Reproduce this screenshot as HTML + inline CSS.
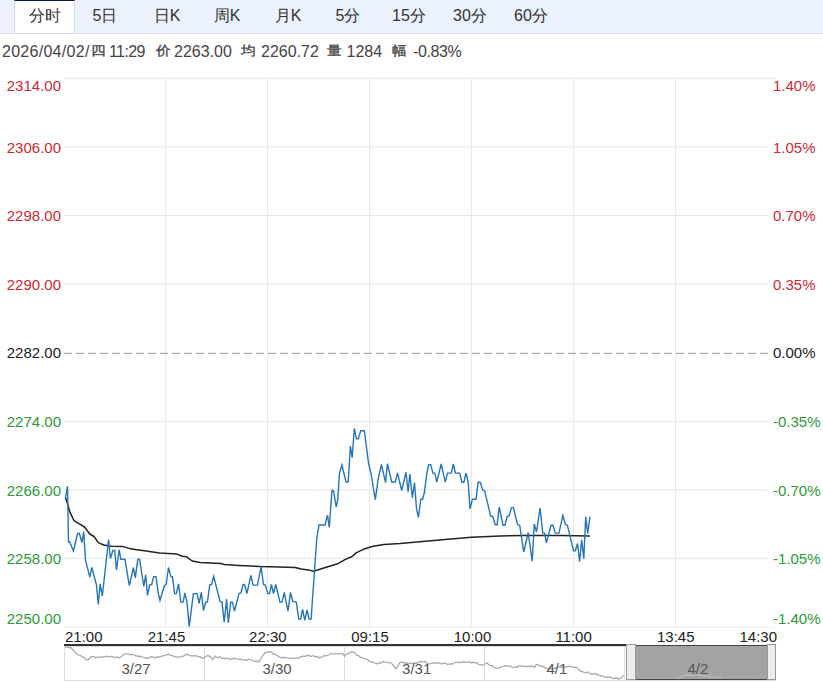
<!DOCTYPE html>
<html><head><meta charset="utf-8">
<style>
*{margin:0;padding:0;box-sizing:border-box}
html,body{width:823px;height:683px;overflow:hidden;background:#fff;font-family:"Liberation Sans",sans-serif;}
#tabs{position:absolute;left:0;top:0;width:823px;height:34px;background:#ebf2fd;border-bottom:1px solid #d9dee8}
.tab{position:absolute;top:0;height:33px;line-height:31px;font-size:16px;color:#333;text-align:center;width:60px}
.tab.on{background:#fff;border-top:1px solid #0b1a4a;border-left:1px solid #d4d8e0;border-right:1px solid #d4d8e0;height:33px;line-height:30px}
#info{position:absolute;left:2px;top:42px;font-size:16px;color:#444;white-space:pre;line-height:20px}
#info span{position:absolute;top:0}
#info .cj{transform:scale(0.95,0.84);transform-origin:0 3px;-webkit-text-stroke:0.35px #444}
.yl{position:absolute;left:0;width:61px;text-align:right;font-size:15px;line-height:16px;background:#fff;padding-left:4px}
.yr{position:absolute;left:768px;font-size:15px;line-height:16px;text-align:left;background:#fff;padding-left:5px;padding-right:2px}
.red{color:#cc2a32}.grn{color:#2b9b38}.blk{color:#222}
.xl{position:absolute;top:629px;font-size:15px;color:#222;line-height:15px;width:60px;text-align:center}
.nl{position:absolute;top:661px;font-size:15px;color:#555;line-height:15px;width:60px;text-align:center}
</style></head><body>
<div id="tabs">
<div class="tab on" style="left:14px;width:61px">分时</div>
<div class="tab" style="left:75px">5日</div>
<div class="tab" style="left:137px">日K</div>
<div class="tab" style="left:197px">周K</div>
<div class="tab" style="left:258px">月K</div>
<div class="tab" style="left:318px">5分</div>
<div class="tab" style="left:379px">15分</div>
<div class="tab" style="left:440px">30分</div>
<div class="tab" style="left:501px">60分</div>
</div>
<div id="info"><span style="left:0px;letter-spacing:0.28px">2026/04/02/</span><span class="cj" style="left:89px">四</span><span style="left:107px;letter-spacing:-0.6px">11:29</span><span class="cj" style="left:154px">价</span><span style="left:172px">2263.00</span><span class="cj" style="left:239px">均</span><span style="left:259px">2260.72</span><span class="cj" style="left:325px">量</span><span style="left:344.5px">1284</span><span class="cj" style="left:390px">幅</span><span style="left:411px;letter-spacing:-0.4px">-0.83%</span></div>
<svg width="823" height="683" style="position:absolute;left:0;top:0">
<g stroke="#e8e8e8" stroke-width="1">
<line x1="64" y1="78.35" x2="776" y2="78.35"/>
<line x1="64" y1="146.93" x2="776" y2="146.93"/>
<line x1="64" y1="215.51" x2="776" y2="215.51"/>
<line x1="64" y1="284.09" x2="776" y2="284.09"/>
<line x1="64" y1="421.25" x2="776" y2="421.25"/>
<line x1="64" y1="489.83" x2="776" y2="489.83"/>
<line x1="64" y1="558.41" x2="776" y2="558.41"/>
<line x1="64" y1="626.99" x2="776" y2="626.99"/>
<line x1="165.5" y1="78" x2="165.5" y2="627"/>
<line x1="267.5" y1="78" x2="267.5" y2="627"/>
<line x1="369.5" y1="78" x2="369.5" y2="627"/>
<line x1="471.5" y1="78" x2="471.5" y2="627"/>
<line x1="573.5" y1="78" x2="573.5" y2="627"/>
<line x1="675.5" y1="78" x2="675.5" y2="627"/>
</g>
<line x1="64" y1="353.3" x2="776" y2="353.3" stroke="#aaa" stroke-width="1.2" stroke-dasharray="8,4"/>
<path d="M65.6,498 L67.5,503.5 L69.7,511.6 L74,520.7 L78.2,523.1 L84.3,526.8 L89.8,534 L94,536.5 L98.3,542.6 L103.7,545 L111,546.2 L123.2,546.6 L129.3,548.4 L135.3,549.5 L142.6,550.5 L159.6,553.1 L177,554.1 L182.5,556.2 L186.7,556.8 L192.2,561 L200.1,562.6 L220.8,563.5 L224.4,564.4 L239,565.4 L260,566.5 L279.3,566.9 L295.1,567.5 L301.2,569.1 L308.5,569.9 L313.5,571.3 L325.5,567.5 L337.6,563.8 L344.9,559.6 L352.2,556.5 L356,552.9 L363.3,549.3 L373,546.2 L384,544.4 L400,543.4 L428,541 L451,538.9 L471.7,537.3 L500,536 L524.3,535.6 L560.8,535.6 L589.9,535.9" fill="none" stroke="#222" stroke-width="1.5" stroke-linejoin="round"/>
<path d="M65.3,498.5 L67.5,486.3 L68.5,542 L69.7,542 L73.4,551 L77.6,533.5 L79.4,533.5 L81.9,542.6 L83.7,531.6 L85.5,560.2 L89.8,577.2 L91.8,567.5 L96.5,585.1 L98.3,604.5 L100.1,583.9 L102.3,596 L108.6,539.5 L110.4,558.5 L112.9,550.5 L114.7,550.5 L116.5,569.9 L119.2,549.5 L120.8,559.3 L125,559.3 L129.3,585.7 L133.5,567.5 L135.3,577.8 L137.8,559.3 L139.6,559.3 L143.8,586.3 L145.7,574.8 L147.5,595.4 L149.7,585.1 L151.7,584.5 L153.6,576.6 L156,576.6 L158.2,593 L160,600.5 L164.3,585.7 L166.1,584.5 L168.5,567.5 L170.9,576.6 L172.4,576.6 L174.6,593.6 L176.4,593.6 L178.5,583.9 L180.9,602.1 L183.1,602.1 L184.9,593 L187,602.1 L189.2,626.4 L193.4,593.6 L197.1,593.6 L199.1,603.3 L201.3,592.4 L203.5,610.6 L205.6,602.1 L207.4,602.1 L209.8,585.1 L211.6,584.5 L213.7,576.6 L220.1,601.5 L222,602.1 L224.2,622.2 L226.6,599.1 L228.3,622.8 L230.7,602.1 L232.5,602.1 L234.4,611.2 L239,593.6 L240.8,593 L243.2,584.5 L244.8,585.1 L246.9,593.6 L250.9,575.4 L253,585.1 L257.4,585.1 L261.1,566.9 L263.5,584.5 L265.3,585.1 L267.8,593.6 L269.6,593.6 L271.4,584.5 L273.5,593.6 L275.7,584.5 L279.9,602.1 L282,602.1 L284.2,592.4 L288,611.2 L290.5,592.4 L292.7,601.5 L296.3,602.1 L298.7,619.1 L300.6,619.1 L302.6,609.4 L304.8,620.3 L307,610 L309.1,619.1 L311.1,619.1 L316.8,538 L319,525 L325,525 L327.5,515.2 L329.3,527.4 L332,490.3 L333.6,490.9 L336.2,507 L337.8,499.4 L339.4,473.5 L341.9,465 L346.1,482 L348.2,482 L350.4,446.1 L352.2,457.7 L354.3,428.5 L356.5,438.8 L358.3,438.8 L360.7,430.7 L364.3,430.7 L368.6,463.7 L371,473.5 L375.3,499.6 L378.3,478.3 L381.4,464.3 L385.6,482.6 L387.4,463.7 L391.7,482 L395.3,482 L397.5,472.9 L401.7,490.5 L406,472.2 L408.1,491.7 L409.9,474.1 L412.3,497.8 L414.5,482.6 L416.5,508.9 L418.4,517.4 L420.8,499.2 L422.6,499.2 L424.4,492.5 L426.9,473.1 L428.7,464.6 L430.8,464.6 L432.9,473.1 L434.8,473.1 L436.8,482.2 L441.2,464 L445.3,482.2 L447.5,473.1 L451.2,473.1 L453.4,464 L455.4,473.1 L459.7,473.1 L461.9,482.2 L463.9,482.2 L466,473.1 L468.2,482.2 L470,508.9 L472.4,499.2 L476.1,499.2 L478.1,482.2 L480.3,482.2 L482.8,490.1 L484.6,490.7 L490.7,516.2 L492.7,516.2 L495.2,524.7 L497.1,524.7 L499.2,507.1 L503,525.2 L504.9,525.2 L507.3,516.1 L509.1,516.1 L511.5,507.6 L513.4,507.6 L517.6,524.6 L519.7,525.2 L523.7,552 L528.2,532.5 L532.2,561.1 L534.3,524 L536.5,531.9 L540.1,508.2 L542.8,533.1 L544.7,533.1 L546.4,542.9 L551,525.2 L552.9,525.2 L555.3,533.1 L558.9,533.1 L562.9,515.5 L565.6,524.6 L567.4,525.2 L573.5,550.8 L575.3,550.8 L577.5,543.5 L579.6,561.7 L581.7,539.8 L583.8,558.7 L585.7,516.7 L587.7,533.7 L589.9,516.7" fill="none" stroke="#2675b8" stroke-width="1.4" stroke-linejoin="miter"/>
<!-- navigator -->
<rect x="64.5" y="646.5" width="711" height="34" fill="none" stroke="#ddd"/>
<g stroke="#ddd" shape-rendering="crispEdges">
<line x1="204.5" y1="646" x2="204.5" y2="680"/>
<line x1="344.5" y1="646" x2="344.5" y2="680"/>
<line x1="484.5" y1="646" x2="484.5" y2="680"/>
<line x1="624.5" y1="646" x2="624.5" y2="680"/>
</g>
<path d="M65.1,647.1 L67.1,646.9 L69.0,647.6 L71.0,647.7 L72.7,649.5 L74.5,651.8 L76.2,653.6 L78.2,654.9 L80.1,655.2 L82.1,657.0 L84.1,657.2 L86.0,659.5 L88.0,660.0 L90.6,657.0 L92.3,656.6 L94.0,656.6 L95.7,657.8 L97.4,657.0 L99.1,657.5 L100.8,657.0 L102.5,657.0 L104.2,657.1 L105.9,656.1 L107.6,656.7 L109.3,656.9 L111.0,656.2 L112.5,656.6 L114.1,657.3 L115.6,657.5 L117.2,656.9 L118.7,657.9 L120.7,657.0 L122.6,655.4 L124.6,654.0 L126.3,653.8 L128.0,653.4 L129.7,654.9 L131.4,654.4 L133.1,654.5 L134.6,655.2 L136.1,655.9 L137.6,656.0 L139.1,656.7 L140.7,656.2 L142.2,657.2 L143.7,657.1 L145.2,658.2 L146.7,657.9 L148.4,658.4 L150.1,657.0 L151.8,656.9 L153.5,656.9 L155.2,658.0 L156.9,657.0 L158.6,657.0 L160.3,656.8 L162.0,655.8 L163.7,655.8 L165.4,655.2 L167.1,654.7 L168.8,654.5 L170.5,655.1 L172.2,655.6 L173.9,656.6 L175.6,656.8 L177.3,657.0 L179.0,657.3 L180.7,656.7 L182.4,656.5 L184.2,655.6 L185.9,654.4 L187.6,654.5 L189.4,655.4 L191.3,655.8 L193.2,656.0 L195.0,655.6 L196.7,656.2 L198.4,656.9 L200.1,656.5 L201.8,658.0 L203.5,657.9 L205.7,656.7 L207.8,655.3 L209.5,656.4 L211.2,657.5 L212.9,659.6 L215.4,656.2 L217.0,657.2 L218.5,657.8 L220.1,656.8 L221.7,658.3 L223.2,658.1 L224.8,658.7 L226.4,658.2 L228.0,658.4 L229.6,659.2 L231.2,659.4 L232.7,658.2 L234.3,659.1 L235.9,658.2 L237.5,659.0 L239.0,659.5 L240.5,659.0 L242.0,659.9 L243.5,660.2 L245.1,659.6 L246.6,660.5 L248.1,659.5 L249.6,659.2 L251.1,660.0 L252.8,660.8 L254.5,661.3 L256.6,661.0 L258.8,662.1 L260.8,658.5 L262.7,655.8 L264.7,652.8 L266.4,652.7 L268.1,651.6 L269.8,651.9 L271.5,652.0 L273.2,654.2 L274.9,654.5 L276.6,655.1 L278.3,656.2 L280.0,657.4 L281.7,657.7 L283.4,657.3 L285.1,657.9 L286.8,657.9 L288.5,658.1 L290.2,658.4 L291.9,658.5 L293.6,658.4 L295.3,658.1 L297.0,657.9 L298.7,658.0 L300.4,656.9 L302.1,656.5 L303.8,656.2 L305.5,656.4 L307.2,655.5 L308.9,655.5 L310.6,656.5 L312.3,655.6 L314.0,656.2 L315.7,656.8 L317.4,656.5 L319.1,657.9 L320.8,657.2 L322.5,656.9 L324.2,655.4 L326.0,655.8 L327.7,655.3 L329.4,654.5 L331.3,653.5 L333.1,654.1 L335.0,653.6 L336.6,653.5 L338.1,653.9 L339.7,653.4 L341.2,653.9 L342.8,653.6 L344.5,656.2 L347.0,653.6 L348.7,653.6 L350.4,652.1 L352.1,651.8 L353.8,652.2 L355.3,653.7 L356.8,655.3 L358.3,655.4 L359.8,657.0 L361.8,657.5 L363.7,658.3 L365.7,658.7 L367.4,659.5 L369.1,660.7 L370.8,662.1 L372.3,662.2 L373.8,662.7 L375.3,663.5 L376.8,663.8 L378.3,663.1 L379.8,662.8 L381.4,663.0 L382.9,661.4 L384.4,661.8 L386.1,662.2 L387.8,662.8 L389.5,662.4 L391.2,663.0 L393.4,665.5 L395.5,668.9 L397.2,667.1 L398.9,663.9 L400.6,662.1 L402.1,661.9 L403.6,662.7 L405.2,663.4 L406.7,662.8 L408.2,663.8 L409.9,663.3 L411.6,663.1 L413.3,663.6 L415.0,662.8 L416.7,663.2 L418.4,662.4 L420.1,661.6 L421.8,661.6 L423.5,661.8 L425.2,661.3 L426.9,663.2 L428.6,663.8 L430.3,663.6 L432.0,663.1 L433.7,662.8 L435.4,663.3 L437.1,662.6 L438.8,663.0 L440.5,663.7 L442.2,663.9 L443.9,663.0 L445.6,663.4 L447.3,664.4 L449.0,664.1 L450.7,664.0 L452.4,664.0 L454.1,663.0 L455.9,662.4 L457.6,662.4 L459.3,662.4 L460.8,662.8 L462.4,661.9 L463.9,662.0 L465.4,662.1 L466.9,662.1 L468.5,662.0 L470.0,662.1 L471.7,663.1 L473.5,662.1 L475.2,663.0 L476.9,662.5 L478.6,664.4 L480.3,664.6 L482.0,665.1 L483.7,664.7 L485.4,663.7 L487.1,663.0 L488.8,664.7 L490.5,665.7 L492.2,665.6 L493.9,667.5 L495.6,668.1 L497.3,668.3 L499.0,667.8 L500.7,667.2 L502.4,666.8 L504.1,666.0 L505.8,665.9 L507.5,666.0 L509.2,666.1 L510.9,666.2 L512.6,667.4 L514.3,667.6 L516.0,666.8 L517.7,667.2 L519.4,665.6 L521.1,665.9 L522.8,666.5 L524.5,666.2 L526.2,666.6 L527.9,666.5 L529.6,666.5 L531.3,665.9 L533.0,666.7 L534.7,667.2 L536.4,664.7 L538.1,664.5 L539.8,666.3 L541.5,665.9 L543.2,666.7 L544.9,667.6 L546.6,668.3 L548.3,668.5 L550.0,668.9 L551.7,668.4 L553.4,668.9 L555.1,668.1 L556.8,667.3 L558.5,667.2 L560.2,666.6 L561.9,667.5 L563.6,666.7 L565.3,667.0 L567.0,666.4 L568.7,666.3 L570.4,666.2 L572.1,666.9 L573.8,667.5 L575.5,667.2 L577.2,667.7 L578.9,669.8 L580.6,671.1 L582.3,671.5 L584.0,672.4 L585.7,672.9 L587.4,672.0 L589.1,673.2 L590.8,673.7 L592.5,674.5 L594.3,673.5 L596.0,674.2 L597.7,674.9 L599.2,674.9 L600.8,675.8 L602.3,676.0 L603.8,676.5 L605.4,677.4 L606.9,677.4 L608.6,677.0 L610.3,677.4 L612.0,677.9 L613.7,678.8 L615.4,678.1 L617.1,677.9 L618.8,679.2 L620.5,678.3 L622.0,677.2 L623.5,675.0" fill="none" stroke="#aaa" stroke-width="1.3"/>
<rect x="64" y="644" width="562" height="2" fill="#333"/>
<rect x="636" y="645" width="132" height="35" fill="#a3a3a3"/>
<rect x="636" y="645" width="132" height="1" fill="#444"/>
<rect x="636" y="679" width="132" height="1" fill="#444"/>
<path d="M677,679 L686,674.7 L692,675.6 L698,675.2 L711,676.9 L722,677" fill="none" stroke="#bdbdbd" stroke-width="1.2"/><path d="M722,677 L766,676" fill="none" stroke="#b0b0b0" stroke-width="1" stroke-dasharray="1.5,2.5"/>
<rect x="626.5" y="644.5" width="9" height="35" fill="#ececec" stroke="#999"/>
<rect x="767.5" y="644.5" width="8" height="35" fill="#ececec" stroke="#999"/>
</svg>
<div class="yl red" style="top:78px">2314.00</div>
<div class="yl red" style="top:139.5px">2306.00</div>
<div class="yl red" style="top:208px">2298.00</div>
<div class="yl red" style="top:276.5px">2290.00</div>
<div class="yl blk" style="top:345px">2282.00</div>
<div class="yl grn" style="top:414px">2274.00</div>
<div class="yl grn" style="top:482.5px">2266.00</div>
<div class="yl grn" style="top:551px">2258.00</div>
<div class="yl grn" style="top:611px">2250.00</div>
<div class="yr red" style="top:78px;background:none">1.40%</div>
<div class="yr red" style="top:139.5px">1.05%</div>
<div class="yr red" style="top:208px">0.70%</div>
<div class="yr red" style="top:276.5px">0.35%</div>
<div class="yr blk" style="top:345px">0.00%</div>
<div class="yr grn" style="top:414px">-0.35%</div>
<div class="yr grn" style="top:482.5px">-0.70%</div>
<div class="yr grn" style="top:551px">-1.05%</div>
<div class="yr grn" style="top:611px">-1.40%</div>
<div class="xl" style="left:65px;text-align:left">21:00</div>
<div class="xl" style="left:136.5px">21:45</div>
<div class="xl" style="left:237.9px">22:30</div>
<div class="xl" style="left:340.0px">09:15</div>
<div class="xl" style="left:442.5px">10:00</div>
<div class="xl" style="left:543.6px">11:00</div>
<div class="xl" style="left:645.8px">13:45</div>
<div class="xl" style="left:717px;text-align:right">14:30</div>
<div class="nl" style="left:106.0px">3/27</div>
<div class="nl" style="left:247.0px">3/30</div>
<div class="nl" style="left:386.7px">3/31</div>
<div class="nl" style="left:526.9px">4/1</div>
<div class="nl" style="left:667.9px">4/2</div>
</body></html>
